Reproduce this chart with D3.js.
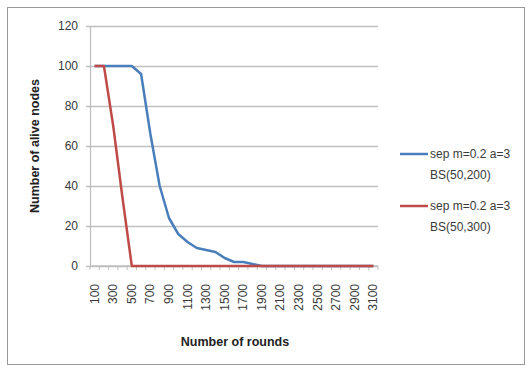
<!DOCTYPE html>
<html>
<head>
<meta charset="utf-8">
<script src="https://cdn.jsdelivr.net/npm/d3@7"></script>
<style>
  html, body { margin: 0; padding: 0; background: #ffffff; }
  svg { display: block; }
  text { font-family: "Liberation Sans", Arial, sans-serif; }
</style>
</head>
<body>
<svg id="chart" width="529" height="370"></svg>
<script>
// Round numbers on the category axis
const rounds = [100, 200, 300, 400, 500, 600, 700, 800, 900, 1000,
                1100, 1200, 1300, 1400, 1500, 1600, 1700, 1800, 1900, 2000,
                2100, 2200, 2300, 2400, 2500, 2600, 2700, 2800, 2900, 3000, 3100];

// Alive nodes per round, base station at (50,200)
const aliveBS200 = [100, 100, 100, 100, 100, 96, 66, 40, 24, 16,
                    12, 9, 8, 7, 4, 2, 2, 1, 0, 0,
                    0, 0, 0, 0, 0, 0, 0, 0, 0, 0, 0];

// Alive nodes per round, base station at (50,300)
const aliveBS300 = [100, 100, 70, 34, 0, 0, 0, 0, 0, 0,
                    0, 0, 0, 0, 0, 0, 0, 0, 0, 0,
                    0, 0, 0, 0, 0, 0, 0, 0, 0, 0, 0];

const yTicks = [0, 20, 40, 60, 80, 100, 120];

const seriesList = [
  { lines: ["sep m=0.2 a=3", "BS(50,200)"], values: aliveBS200, color: "#4a7ebb" },
  { lines: ["sep m=0.2 a=3", "BS(50,300)"], values: aliveBS300, color: "#be4b48" }
];

const svg = d3.select("#chart");
const plot = { left: 90, right: 378, top: 26, bottom: 266 };

// Chart frame
svg.append("rect")
  .attr("x", 7.5).attr("y", 7.5)
  .attr("width", 517).attr("height", 357)
  .attr("fill", "#ffffff")
  .attr("stroke", "#9a9a9a")
  .attr("stroke-width", 1);

const x = d3.scaleBand().domain(rounds).range([plot.left, plot.right]).padding(0);
const y = d3.scaleLinear().domain([0, 120]).range([plot.bottom, plot.top]);
const cx = d => x(d) + x.bandwidth() / 2;

// Horizontal gridlines with outward ticks on the value axis
const yAxis = d3.axisLeft(y).tickValues(yTicks)
  .tickSize(-(plot.right - plot.left)).tickSizeOuter(0).tickPadding(12);
const gy = svg.append("g").attr("transform", `translate(${plot.left},0)`).call(yAxis);
gy.select(".domain").remove();
gy.selectAll(".tick line")
  .attr("x1", -4)
  .attr("stroke", "#bfbfbf").attr("stroke-width", 1.3);
gy.selectAll(".tick text")
  .attr("fill", "#3a3a3a").style("font-size", "12px");

// Value axis line
svg.append("line")
  .attr("x1", plot.left + 0.5).attr("x2", plot.left + 0.5)
  .attr("y1", plot.top).attr("y2", plot.bottom)
  .attr("stroke", "#bfbfbf").attr("stroke-width", 1.3);

// Category axis: ticks on band edges, labels every other round
const edges = rounds.map(r => x(r)).concat([plot.right]);
svg.append("line")
  .attr("x1", plot.left).attr("x2", plot.right)
  .attr("y1", plot.bottom).attr("y2", plot.bottom)
  .attr("stroke", "#bfbfbf").attr("stroke-width", 1.3);
svg.append("g").selectAll("line").data(edges).join("line")
  .attr("x1", d => d).attr("x2", d => d)
  .attr("y1", plot.bottom).attr("y2", plot.bottom + 4)
  .attr("stroke", "#bfbfbf").attr("stroke-width", 1);

svg.append("g").selectAll("text")
  .data(rounds.filter((r, i) => i % 2 === 0))
  .join("text")
  .attr("transform", d => `translate(${cx(d) + 4},${plot.bottom + 18}) rotate(-90)`)
  .attr("text-anchor", "end")
  .attr("fill", "#3a3a3a")
  .style("font-size", "12px")
  .text(d => d);

// Series lines
const line = d3.line()
  .x((d, i) => cx(rounds[i]))
  .y(d => y(d));

seriesList.forEach(s => {
  svg.append("path")
    .datum(s.values)
    .attr("d", line)
    .attr("fill", "none")
    .attr("stroke", s.color)
    .attr("stroke-width", 2.5)
    .attr("stroke-linejoin", "round");
});

// Legend
const legendY = [154, 206];
seriesList.forEach((s, i) => {
  const g = svg.append("g").attr("transform", `translate(400,${legendY[i]})`);
  g.append("line").attr("x1", 0).attr("x2", 28).attr("y1", 0).attr("y2", 0)
    .attr("stroke", s.color).attr("stroke-width", 2.5);
  g.selectAll("text").data(s.lines).join("text")
    .attr("x", 30).attr("y", (d, j) => j * 21 + 4)
    .attr("fill", "#3a3a3a")
    .style("font-size", "12px")
    .text(d => d);
});

// Axis titles
svg.append("text")
  .attr("transform", `translate(39,146) rotate(-90)`)
  .attr("text-anchor", "middle")
  .attr("fill", "#222")
  .style("font-size", "12.5px").style("font-weight", "bold")
  .text("Number of alive nodes");

svg.append("text")
  .attr("x", 235).attr("y", 346)
  .attr("text-anchor", "middle")
  .attr("fill", "#222")
  .style("font-size", "12.5px").style("font-weight", "bold")
  .text("Number of rounds");
</script>
</body>
</html>
